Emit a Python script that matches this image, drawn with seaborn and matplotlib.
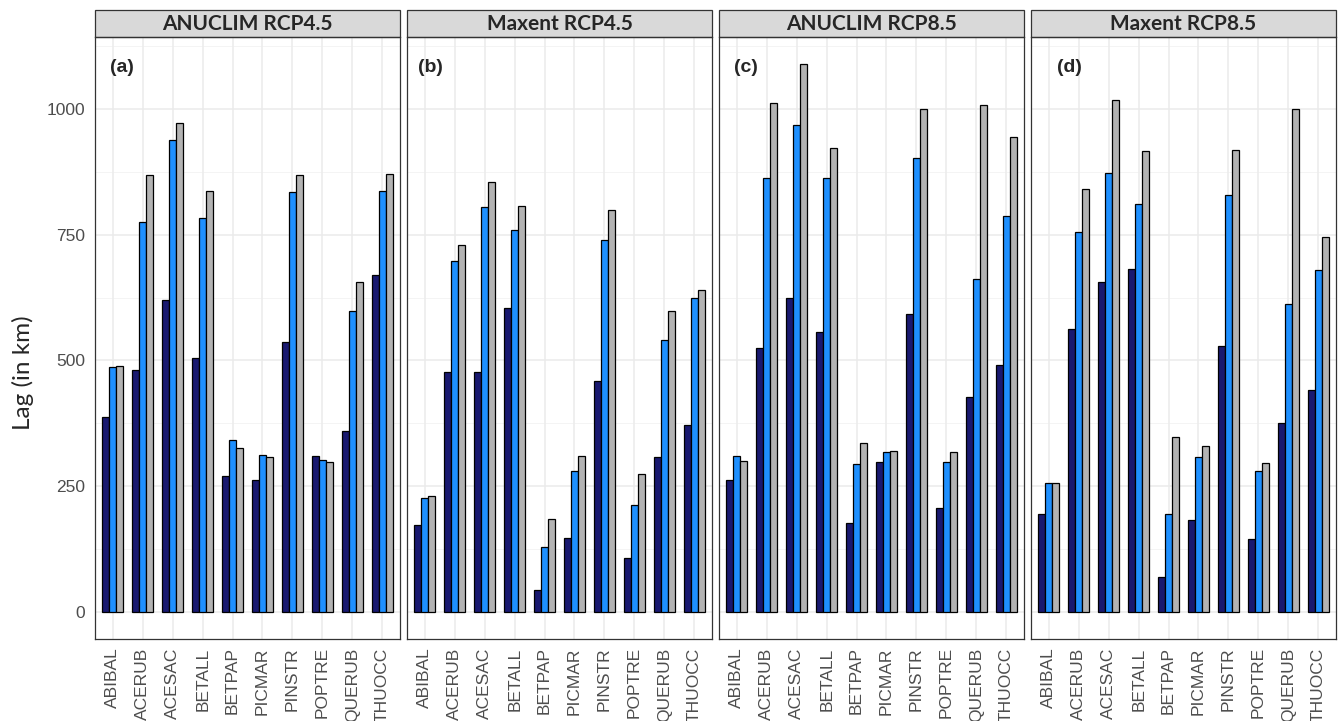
import numpy as np
import pandas as pd
import matplotlib
matplotlib.use("Agg")
import matplotlib.pyplot as plt
from matplotlib.patches import Rectangle
import seaborn as sns

# species on the x axis
species = ['ABIBAL', 'ACERUB', 'ACESAC', 'BETALL', 'BETPAP',
           'PICMAR', 'PINSTR', 'POPTRE', 'QUERUB', 'THUOCC']
panels = ['ANUCLIM RCP4.5', 'Maxent RCP4.5', 'ANUCLIM RCP8.5', 'Maxent RCP8.5']
panel_tags = ['(a)', '(b)', '(c)', '(d)']
periods = ['2011-2040', '2041-2070', '2071-2100']

# lag values (km), one list per panel and period
anuclim45_p1 = [387, 481, 621, 504, 269, 261, 537, 309, 359, 669]
anuclim45_p2 = [486, 776, 939, 783, 342, 311, 836, 301, 598, 838]
anuclim45_p3 = [488, 869, 973, 838, 325, 307, 868, 297, 655, 871]

maxent45_p1 = [172, 476, 476, 605, 44, 146, 458, 107, 308, 372]
maxent45_p2 = [226, 697, 805, 759, 128, 280, 740, 212, 540, 624]
maxent45_p3 = [231, 730, 855, 807, 184, 310, 799, 274, 598, 641]

anuclim85_p1 = [261, 524, 625, 556, 177, 298, 593, 206, 428, 491]
anuclim85_p2 = [309, 863, 968, 863, 293, 317, 903, 297, 662, 788]
anuclim85_p3 = [299, 1013, 1089, 922, 336, 320, 1000, 318, 1008, 944]

maxent85_p1 = [194, 562, 656, 681, 69, 182, 529, 144, 376, 442]
maxent85_p2 = [255, 756, 873, 811, 195, 307, 830, 279, 613, 680]
maxent85_p3 = [255, 842, 1018, 917, 348, 329, 919, 296, 1000, 746]

series = {
    'ANUCLIM RCP4.5': [anuclim45_p1, anuclim45_p2, anuclim45_p3],
    'Maxent RCP4.5': [maxent45_p1, maxent45_p2, maxent45_p3],
    'ANUCLIM RCP8.5': [anuclim85_p1, anuclim85_p2, anuclim85_p3],
    'Maxent RCP8.5': [maxent85_p1, maxent85_p2, maxent85_p3],
}

rows = []
for panel in panels:
    for period, vals in zip(periods, series[panel]):
        for sp, v in zip(species, vals):
            rows.append({'panel': panel, 'period': period, 'species': sp, 'lag': v})
df = pd.DataFrame(rows)

palette = {'2011-2040': '#191970', '2041-2070': '#1E90FF', '2071-2100': '#B3B3B3'}

sns.set_style('white')
plt.rcParams['font.family'] = ['Liberation Sans', 'DejaVu Sans']

fig, axes = plt.subplots(1, 4, figsize=(13.4, 7.21), dpi=100, sharey=True)
fig.subplots_adjust(left=95 / 1340, right=1336 / 1340, top=1 - 37 / 721,
                    bottom=1 - 639 / 721, wspace=0.023)

tag_x = [0.05, 0.036, 0.05, 0.085]

for i, (ax, panel) in enumerate(zip(axes, panels)):
    sub = df[df['panel'] == panel]
    # grid first so bars sit on top
    ax.set_axisbelow(True)
    for y in [125, 375, 625, 875, 1125]:
        ax.axhline(y, color='#F2F2F2', lw=0.6, zorder=0)
    for y in [0, 250, 500, 750, 1000]:
        ax.axhline(y, color='#EBEBEB', lw=1.1, zorder=0)
    for x in range(len(species)):
        ax.axvline(x, color='#EBEBEB', lw=1.1, zorder=0)

    sns.barplot(data=sub, x='species', y='lag', hue='period', order=species,
                hue_order=periods, palette=palette, width=0.7, gap=0,
                edgecolor='black', linewidth=0.9, saturation=1, errorbar=None,
                legend=False, ax=ax, zorder=2)

    ax.set_xlim(-0.6, 9.6)
    ax.set_ylim(-54.5, 1143.5)
    ax.set_xlabel('')
    ax.set_ylabel('')
    ax.set_yticks([0, 250, 500, 750, 1000])
    ax.tick_params(axis='x', rotation=90, labelsize=12.5, labelcolor='#4D4D4D',
                   length=4, color='#333333', width=0.8, pad=2)
    ax.tick_params(axis='y', labelsize=12.5, labelcolor='#4D4D4D',
                   length=4 if i == 0 else 0, color='#333333', width=0.8, pad=3)
    for s in ax.spines.values():
        s.set_color('#333333')
        s.set_linewidth(0.9)

    # facet strip
    strip_h = 27 / 602
    ax.add_patch(Rectangle((0, 1), 1, strip_h, transform=ax.transAxes,
                           facecolor='#D9D9D9', edgecolor='#333333', lw=0.9,
                           clip_on=False))
    ax.text(0.5, 1 + strip_h / 2, panel, transform=ax.transAxes, ha='center',
            va='center', fontsize=15, fontweight='bold', family='Lato')

    ax.text(tag_x[i], 0.95, panel_tags[i], transform=ax.transAxes, ha='left',
            va='center', fontsize=14, fontweight='bold', family='Liberation Sans')

# y label sits a bit below the panel centre in the reference
fig.text(23 / 1340, 1 - 373 / 721, 'Lag (in km)', rotation=90, ha='center',
         va='center', fontsize=17.5, family='Lato')

fig.savefig('out.png', dpi=100)
